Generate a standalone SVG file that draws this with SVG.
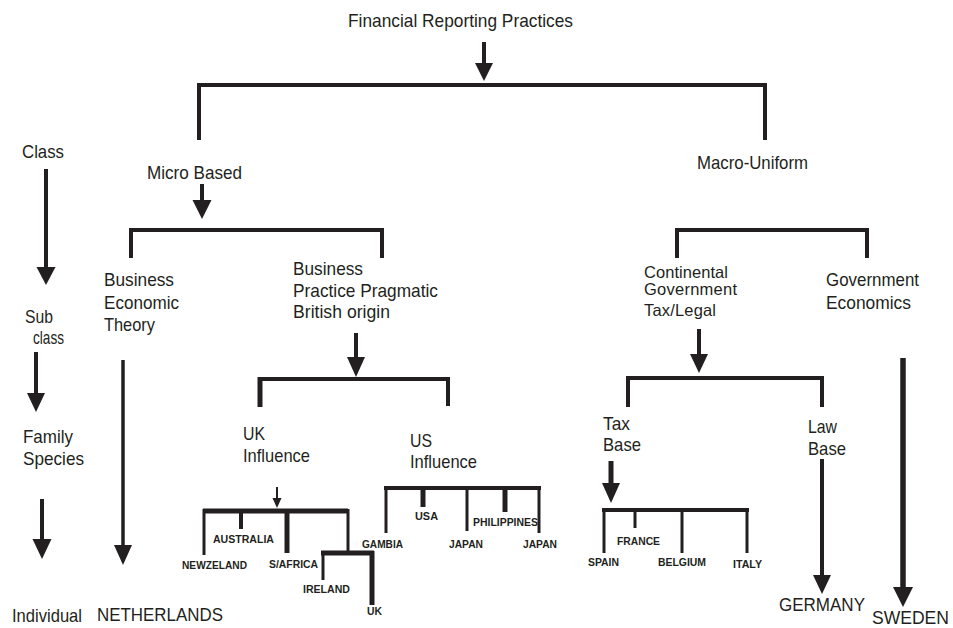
<svg xmlns="http://www.w3.org/2000/svg" width="953" height="628" viewBox="0 0 953 628">
  <style>
    .t { font-family: "Liberation Sans", Arial, sans-serif; font-size: 19px; fill: #231f20; }
    .s { font-family: "Liberation Sans", Arial, sans-serif; font-size: 16.5px; fill: #231f20; }
    .c { font-family: "Liberation Sans", Arial, sans-serif; font-size: 11.5px; font-weight: bold; fill: #231f20; }
    .br { fill: none; stroke: #231f20; stroke-width: 4; stroke-linejoin: miter; stroke-linecap: butt; }
    .shaft { stroke: #231f20; stroke-width: 4; }
    .head { fill: #231f20; }
  </style>
  <rect width="953" height="628" fill="#ffffff"/>

  <!-- connectors: brackets and arrows -->
  <g id="connectors">
    <!-- top level split -->
    <path class="br" d="M199,140 V85 H765 V140"/>
    <!-- micro based split -->
    <path class="br" d="M131,258 V230 H382 V258"/>
    <!-- macro uniform split -->
    <path class="br" d="M677,258 V230 H867 V258"/>
    <!-- UK / US influence split -->
    <path class="br" d="M448,406 V379 H260" />
    <path class="br" d="M260,377 V407" style="stroke-width:5"/>
    <!-- tax / law split -->
    <path class="br" d="M628,407 V378 H822 V407"/>

    <!-- UK influence countries -->
    <path class="br" d="M203,511 H348" style="stroke-width:5"/>
    <path class="br" d="M204,509 V555" style="stroke-width:3"/>
    <path class="br" d="M241,511 V529"/>
    <path class="br" d="M287,511 V553" style="stroke-width:5"/>
    <path class="br" d="M348,509 V553" style="stroke-width:3"/>
    <path class="br" d="M321,553 H374" style="stroke-width:5"/>
    <path class="br" d="M323,551 V580" style="stroke-width:3"/>
    <path class="br" d="M372,551 V605" style="stroke-width:5"/>

    <!-- US influence countries -->
    <path class="br" d="M384,488 H541"/>
    <path class="br" d="M386,486 V533" style="stroke-width:3"/>
    <path class="br" d="M423,488 V507" style="stroke-width:5"/>
    <path class="br" d="M467,488 V531" style="stroke-width:3"/>
    <path class="br" d="M505,488 V512" style="stroke-width:5"/>
    <path class="br" d="M539,486 V533" style="stroke-width:3"/>

    <!-- tax base countries -->
    <path class="br" d="M602,510 H749"/>
    <path class="br" d="M604,508 V553" style="stroke-width:3"/>
    <path class="br" d="M635,510 V528" style="stroke-width:3"/>
    <path class="br" d="M682,510 V553" style="stroke-width:3"/>
    <path class="br" d="M747,508 V553" style="stroke-width:3"/>

    <!-- arrows -->
    <line class="shaft" x1="484" y1="42" x2="484" y2="65"/>
    <polygon class="head" points="475,63 493,63 484,81"/>

    <line class="shaft" x1="46" y1="169" x2="46" y2="269"/>
    <polygon class="head" points="36.5,267 55.5,267 46,285"/>

    <line class="shaft" x1="202" y1="184" x2="202" y2="202"/>
    <polygon class="head" points="192.5,200 211.5,200 202,219"/>

    <line class="shaft" x1="36" y1="352" x2="36" y2="395"/>
    <polygon class="head" points="27,393 45,393 36,412"/>

    <line class="shaft" x1="123" y1="360" x2="123" y2="547" style="stroke-width:3.5"/>
    <polygon class="head" points="114,545 132,545 123,565"/>

    <line class="shaft" x1="356" y1="333" x2="356" y2="359"/>
    <polygon class="head" points="347,357 365,357 356,377"/>

    <line class="shaft" x1="42" y1="499" x2="42" y2="541"/>
    <polygon class="head" points="32.5,539 51.5,539 42,559"/>

    <line class="shaft" x1="277" y1="487" x2="277" y2="500" style="stroke-width:2"/>
    <polygon class="head" points="272.5,498 281.5,498 277,508"/>

    <line class="shaft" x1="699" y1="329" x2="699" y2="356"/>
    <polygon class="head" points="690,354 708,354 699,373"/>

    <line class="shaft" x1="611" y1="461" x2="611" y2="485" style="stroke-width:5"/>
    <polygon class="head" points="602,483 620,483 611,503"/>

    <line class="shaft" x1="822" y1="459" x2="822" y2="577"/>
    <polygon class="head" points="813,575 831,575 822,594"/>

    <line class="shaft" x1="903" y1="358" x2="903" y2="589" style="stroke-width:5.5"/>
    <polygon class="head" points="893,587 913,587 903,607"/>
  </g>

  <!-- level labels -->
  <g id="levels">
    <text class="t" x="22" y="158" textLength="42" lengthAdjust="spacingAndGlyphs">Class</text>
    <text class="t" x="25" y="323" textLength="28" lengthAdjust="spacingAndGlyphs">Sub</text>
    <text class="t" x="33" y="344" textLength="31" lengthAdjust="spacingAndGlyphs">class</text>
    <text class="t" x="23" y="443" textLength="50" lengthAdjust="spacingAndGlyphs">Family</text>
    <text class="t" x="23" y="465" textLength="61" lengthAdjust="spacingAndGlyphs">Species</text>
    <text class="t" x="12" y="622" textLength="70" lengthAdjust="spacingAndGlyphs">Individual</text>
  </g>

  <g id="root">
    <text class="t" x="348" y="27" textLength="225" lengthAdjust="spacingAndGlyphs">Financial Reporting Practices</text>
  </g>

  <g id="micro-based">
    <text class="t" x="147" y="179" textLength="95" lengthAdjust="spacingAndGlyphs">Micro Based</text>
  </g>

  <g id="macro-uniform">
    <text class="t" x="697" y="169" textLength="111" lengthAdjust="spacingAndGlyphs">Macro-Uniform</text>
  </g>

  <g id="business-economic-theory">
    <text class="t" x="104" y="286" textLength="70" lengthAdjust="spacingAndGlyphs">Business</text>
    <text class="t" x="104" y="309" textLength="75" lengthAdjust="spacingAndGlyphs">Economic</text>
    <text class="t" x="104" y="331" textLength="51" lengthAdjust="spacingAndGlyphs">Theory</text>
  </g>

  <g id="business-practice">
    <text class="t" x="293" y="275" textLength="70" lengthAdjust="spacingAndGlyphs">Business</text>
    <text class="t" x="293" y="297" textLength="145" lengthAdjust="spacingAndGlyphs">Practice Pragmatic</text>
    <text class="t" x="293" y="318" textLength="97" lengthAdjust="spacingAndGlyphs">British origin</text>
  </g>

  <g id="continental">
    <text class="s" x="644" y="278" textLength="84" lengthAdjust="spacing">Continental</text>
    <text class="s" x="644" y="295" textLength="93" lengthAdjust="spacing">Government</text>
    <text class="s" x="644" y="316" textLength="72" lengthAdjust="spacing">Tax/Legal</text>
  </g>

  <g id="government-economics">
    <text class="t" x="826" y="286" textLength="93" lengthAdjust="spacingAndGlyphs">Government</text>
    <text class="t" x="826" y="309" textLength="85" lengthAdjust="spacingAndGlyphs">Economics</text>
  </g>

  <g id="uk-influence">
    <text class="t" x="243" y="440" textLength="22" lengthAdjust="spacingAndGlyphs">UK</text>
    <text class="t" x="243" y="462" textLength="67" lengthAdjust="spacingAndGlyphs">Influence</text>
  </g>

  <g id="us-influence">
    <text class="t" x="410" y="447" textLength="22" lengthAdjust="spacingAndGlyphs">US</text>
    <text class="t" x="410" y="468" textLength="67" lengthAdjust="spacingAndGlyphs">Influence</text>
  </g>

  <g id="tax-base">
    <text class="t" x="603" y="430" textLength="27" lengthAdjust="spacingAndGlyphs">Tax</text>
    <text class="t" x="603" y="451" textLength="38" lengthAdjust="spacingAndGlyphs">Base</text>
  </g>

  <g id="law-base">
    <text class="t" x="808" y="433" textLength="29" lengthAdjust="spacingAndGlyphs">Law</text>
    <text class="t" x="808" y="455" textLength="38" lengthAdjust="spacingAndGlyphs">Base</text>
  </g>

  <g id="netherlands">
    <text class="t" x="97" y="621" textLength="126" lengthAdjust="spacingAndGlyphs">NETHERLANDS</text>
  </g>
  <g id="germany">
    <text class="t" x="779" y="611" textLength="86" lengthAdjust="spacingAndGlyphs">GERMANY</text>
  </g>
  <g id="sweden">
    <text class="t" x="872" y="624" textLength="77" lengthAdjust="spacingAndGlyphs" style="font-size:18px">SWEDEN</text>
  </g>

  <!-- countries -->
  <g id="australia"><text class="c" x="213" y="543" textLength="61" lengthAdjust="spacingAndGlyphs">AUSTRALIA</text></g>
  <g id="newzeland"><text class="c" x="182" y="569" textLength="65" lengthAdjust="spacingAndGlyphs">NEWZELAND</text></g>
  <g id="s-africa"><text class="c" x="269" y="568" textLength="49" lengthAdjust="spacingAndGlyphs">S/AFRICA</text></g>
  <g id="ireland"><text class="c" x="303" y="593" textLength="47" lengthAdjust="spacingAndGlyphs">IRELAND</text></g>
  <g id="uk"><text class="c" x="367" y="615" textLength="15" lengthAdjust="spacingAndGlyphs">UK</text></g>
  <g id="gambia"><text class="c" x="362" y="548" textLength="41" lengthAdjust="spacingAndGlyphs">GAMBIA</text></g>
  <g id="usa"><text class="c" x="415" y="520" textLength="23" lengthAdjust="spacingAndGlyphs">USA</text></g>
  <g id="japan-1"><text class="c" x="449" y="548" textLength="34" lengthAdjust="spacingAndGlyphs">JAPAN</text></g>
  <g id="philippines"><text class="c" x="473" y="526" textLength="65" lengthAdjust="spacingAndGlyphs">PHILIPPINES</text></g>
  <g id="japan-2"><text class="c" x="523" y="548" textLength="34" lengthAdjust="spacingAndGlyphs">JAPAN</text></g>
  <g id="france"><text class="c" x="617" y="545" textLength="43" lengthAdjust="spacingAndGlyphs">FRANCE</text></g>
  <g id="spain"><text class="c" x="588" y="566" textLength="31" lengthAdjust="spacingAndGlyphs">SPAIN</text></g>
  <g id="belgium"><text class="c" x="658" y="566" textLength="48" lengthAdjust="spacingAndGlyphs">BELGIUM</text></g>
  <g id="italy"><text class="c" x="733" y="568" textLength="29" lengthAdjust="spacingAndGlyphs">ITALY</text></g>
</svg>
